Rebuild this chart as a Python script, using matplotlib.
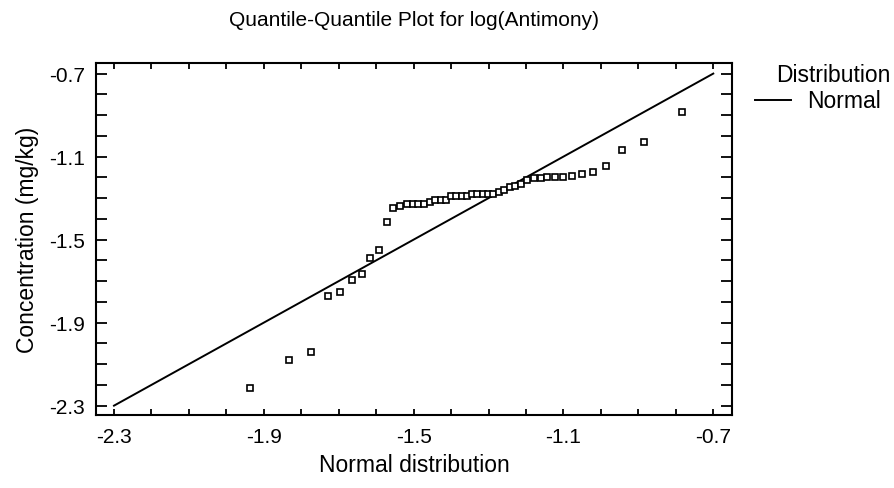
import matplotlib
matplotlib.use("Agg")
import matplotlib.pyplot as plt
from matplotlib.lines import Line2D
from matplotlib.ticker import MultipleLocator, FixedLocator

plt.rcParams['font.family'] = ['Liberation Sans', 'DejaVu Sans']

# Data
normal_quantiles = [-1.936, -1.834, -1.775, -1.729, -1.696, -1.665, -1.638, -1.616,
                    -1.592, -1.572, -1.554, -1.536, -1.518, -1.503, -1.488, -1.472,
                    -1.457, -1.442, -1.428, -1.414, -1.400, -1.386, -1.372, -1.358,
                    -1.344, -1.330, -1.316, -1.301, -1.288, -1.273, -1.258, -1.244,
                    -1.230, -1.214, -1.197, -1.179, -1.161, -1.143, -1.123, -1.101,
                    -1.077, -1.051, -1.022, -0.987, -0.945, -0.885, -0.783]
log_concentration = [-2.213, -2.079, -2.040, -1.771, -1.752, -1.695, -1.665, -1.588,
                     -1.550, -1.415, -1.348, -1.338, -1.328, -1.328, -1.328, -1.328,
                     -1.318, -1.309, -1.309, -1.309, -1.290, -1.290, -1.290, -1.290,
                     -1.280, -1.280, -1.280, -1.280, -1.280, -1.271, -1.261, -1.247,
                     -1.240, -1.232, -1.213, -1.203, -1.203, -1.199, -1.199, -1.199,
                     -1.195, -1.184, -1.174, -1.146, -1.069, -1.030, -0.886]
ref_line_x = [-2.3, -0.7]
ref_line_y = [-2.3, -0.7]
major_ticks = [-2.3, -1.9, -1.5, -1.1, -0.7]
tick_labels = ["-2.3", "-1.9", "-1.5", "-1.1", "-0.7"]

fig = plt.figure(figsize=(8.95, 4.89), dpi=100)
ax = fig.add_axes([96/895, 1-416/489, (732-96)/895, (416-64)/489])

ax.plot(ref_line_x, ref_line_y, color='black', lw=1.4)
ax.plot(normal_quantiles, log_concentration, linestyle='none', marker='s',
        markersize=4.2, markerfacecolor='white', markeredgecolor='black', markeredgewidth=1.2)

ax.set_xlim(-2.348, -0.65)
ax.set_ylim(-2.345, -0.649)
ax.xaxis.set_major_locator(FixedLocator(major_ticks))
ax.yaxis.set_major_locator(FixedLocator(major_ticks))
ax.set_xticklabels(tick_labels)
ax.set_yticklabels(tick_labels)
ax.xaxis.set_minor_locator(MultipleLocator(0.1))
ax.yaxis.set_minor_locator(MultipleLocator(0.1))

ax.tick_params(axis='both', which='both', direction='in', top=True, right=True,
               width=1.3, labelsize=15, colors='black')
ax.tick_params(axis='x', which='both', length=4.5, pad=9)
ax.tick_params(axis='y', which='both', length=8, pad=8)
for s in ax.spines.values():
    s.set_linewidth(1.5)

ax.set_xlabel("Normal distribution", fontsize=16.5, labelpad=5)
ax.set_ylabel("Concentration (mg/kg)", fontsize=16.5, labelpad=7)
fig.text(414/895, 1-20/489, "Quantile-Quantile Plot for log(Antimony)",
         ha='center', va='center', fontsize=15)

# Legend
fig.text(833/895, 1-76/489, "Distribution", ha='center', va='center', fontsize=16.5)
fig.add_artist(Line2D([755/895, 791/895], [1-101/489, 1-101/489], color='black', lw=1.4))
fig.text(807/895, 1-101/489, "Normal", ha='left', va='center', fontsize=16.5)

fig.savefig("out.png", dpi=100)
